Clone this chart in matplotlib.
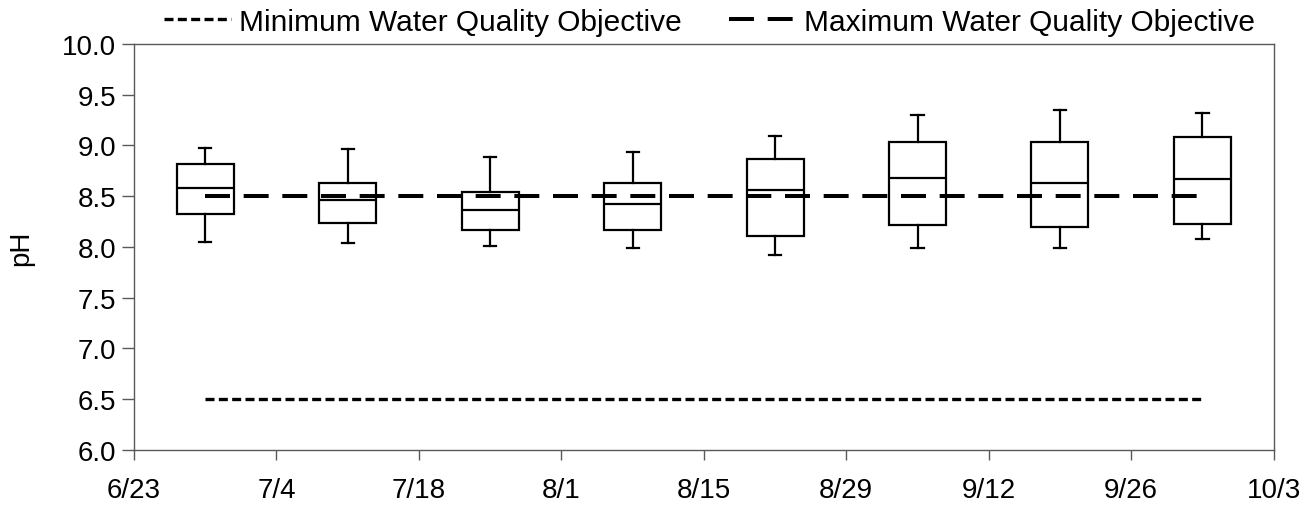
import matplotlib.pyplot as plt

# axis labels along the bottom (evenly spaced ticks)
TICK_LABELS = ["6/23", "7/4", "7/18", "8/1", "8/15", "8/29", "9/12", "9/26", "10/3"]

# pH box summaries for each sampling period
WHISKER_LOW = [8.05, 8.04, 8.01, 7.99, 7.92, 7.99, 7.99, 8.08]
Q1 = [8.32, 8.24, 8.17, 8.17, 8.11, 8.22, 8.20, 8.23]
MEDIAN = [8.58, 8.46, 8.36, 8.42, 8.56, 8.68, 8.63, 8.67]
Q3 = [8.82, 8.63, 8.54, 8.63, 8.87, 9.03, 9.03, 9.08]
WHISKER_HIGH = [8.98, 8.97, 8.89, 8.94, 9.09, 9.30, 9.35, 9.32]

MIN_OBJECTIVE = 6.5
MAX_OBJECTIVE = 8.5

GRAY = "#595959"


def main():
    plt.rcParams["font.family"] = ["Liberation Sans", "DejaVu Sans"]

    fig = plt.figure(figsize=(13.01, 5.06), dpi=100)
    ax = fig.add_axes([0.103, 0.109, 0.876, 0.802])

    positions = [i + 0.5 for i in range(len(MEDIAN))]
    stats = []
    for lo, q1, med, q3, hi in zip(WHISKER_LOW, Q1, MEDIAN, Q3, WHISKER_HIGH):
        stats.append({"whislo": lo, "q1": q1, "med": med, "q3": q3,
                      "whishi": hi, "fliers": []})

    line = {"color": "black", "linewidth": 1.6}
    ax.bxp(stats, positions=positions, widths=0.4, patch_artist=True,
           showfliers=False, capwidths=0.085,
           boxprops={"facecolor": "white", "edgecolor": "black", "linewidth": 1.6},
           medianprops=line, whiskerprops=line, capprops=line,
           manage_ticks=False, zorder=2)

    x_line = [positions[0], positions[-1]]
    ax.plot(x_line, [MIN_OBJECTIVE] * 2, color="black", linewidth=2.4,
            dashes=(2.7, 1.3), label="Minimum Water Quality Objective", zorder=3)
    ax.plot(x_line, [MAX_OBJECTIVE] * 2, color="black", linewidth=2.9,
            dashes=(6.2, 3.4), label="Maximum Water Quality Objective", zorder=3)

    ax.set_xlim(0, len(TICK_LABELS) - 1)
    ax.set_ylim(6.0, 10.0)
    ax.set_xticks(range(len(TICK_LABELS)))
    ax.set_xticklabels(TICK_LABELS)
    ax.set_yticks([6.0 + 0.5 * i for i in range(9)])
    ax.set_yticklabels([f"{6.0 + 0.5 * i:.1f}" for i in range(9)])
    ax.set_ylabel("pH", fontsize=20, labelpad=20)

    for spine in ax.spines.values():
        spine.set_color(GRAY)
        spine.set_linewidth(1.0)
    ax.tick_params(axis="both", direction="out", width=1.0,
                   color=GRAY, labelsize=20)
    ax.tick_params(axis="x", length=7.5, pad=12)
    ax.tick_params(axis="y", length=9, pad=4)

    ax.legend(loc="center", bbox_to_anchor=(0.505, 1.055), ncol=2,
              frameon=False, fontsize=21.5, handlelength=2.24, handletextpad=0.27,
              columnspacing=1.6, borderaxespad=0, borderpad=0)

    fig.savefig("out.png", dpi=100)
    plt.close(fig)


if __name__ == "__main__":
    main()
